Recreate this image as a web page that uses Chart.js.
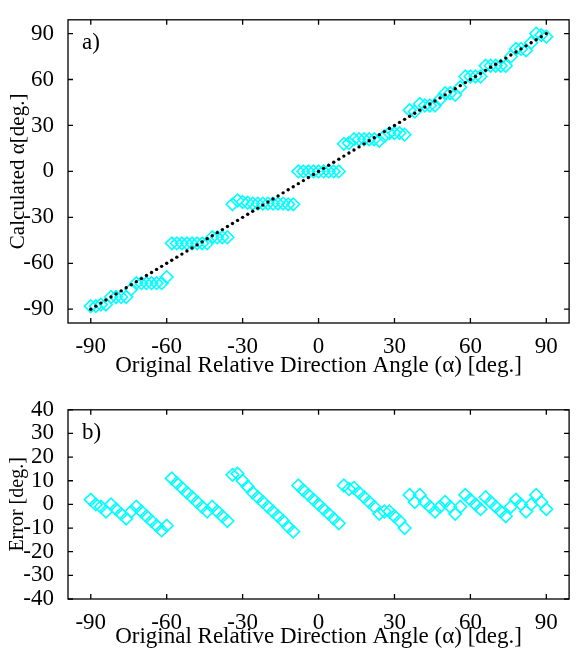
<!DOCTYPE html>
<html>
<head>
<meta charset="utf-8">
<script src="https://cdn.jsdelivr.net/npm/chart.js@4.4.0/dist/chart.umd.min.js"></script>
<style>
  body { margin: 0; background: #fff; }
  #wrap { position: relative; width: 577px; height: 654px; }
  canvas { position: absolute; left: 0; }
</style>
</head>
<body>
<div id="wrap">
  <canvas id="chartAngle" width="577" height="390" style="top:0"></canvas>
  <canvas id="chartError" width="577" height="264" style="top:390px"></canvas>
</div>
<script>
// Datos
const angles = [-90, -88, -86, -84, -82, -80, -78, -76, -74, -72, -70, -68, -66, -64, -62, -60,
  -58, -56, -54, -52, -50, -48, -46, -44, -42, -40, -38, -36,
  -34, -32, -30, -28, -26, -24, -22, -20, -18, -16, -14, -12, -10,
  -8, -6, -4, -2, 0, 2, 4, 6, 8,
  10, 12, 14, 16, 18, 20, 22, 24, 26, 28, 30, 32, 34,
  36, 38, 40, 42, 44, 46, 48, 50, 52, 54, 56, 58, 60, 62, 64, 66, 68, 70, 72, 74, 76, 78, 80, 82, 84, 86, 88, 90];

const calculated = [-88, -88, -87, -87, -82, -82, -82, -82, -77, -73, -73, -73, -73, -73, -73, -69,
  -47, -47, -47, -47, -47, -47, -47, -47, -43, -43, -43, -43,
  -21.5, -19, -20, -20.5, -21, -21, -21, -21, -21, -21, -21, -21.5, -21.5,
  0, 0, 0, 0, 0, 0, 0, 0, 0,
  18, 18.5, 21, 21, 21, 21, 21, 20, 23, 25, 25, 25, 24,
  40, 39, 44, 43, 43, 43, 47, 51, 51, 50, 55, 62, 62, 62, 62, 69, 69, 69, 69, 69, 75, 80, 80, 79, 84, 90, 89, 88];

const errors = [2, 0, -1, -3, 0, -2, -4, -6, -3, -1, -3, -5, -7, -9, -11, -9,
  11, 9, 7, 5, 3, 1, -1, -3, -1, -3, -5, -7,
  12.5, 13, 10, 7.5, 5, 3, 1, -1, -3, -5, -7, -9.5, -11.5,
  8, 6, 4, 2, 0, -2, -4, -6, -8,
  8, 6.5, 7, 5, 3, 1, -1, -4, -3, -3, -5, -7, -10,
  4, 1, 4, 1, -1, -3, -1, 1, -1, -4, -1, 4, 2, 0, -2, 3, 1, -1, -3, -5, -1, 2, 0, -3, 0, 4, 1, -2];

const xTicks = [-90, -60, -30, 0, 30, 60, 90];
const yTicksAngle = [-90, -60, -30, 0, 30, 60, 90];
const yTicksError = [-40, -30, -20, -10, 0, 10, 20, 30, 40];

const FONT = "'Liberation Serif', 'Times New Roman', serif";
const CYAN = '#00FFFF';

const puntos = (ys) => angles.map((a, i) => ({ x: a, y: ys[i] }));

// Caja de ejes con marcas hacia adentro y etiqueta del panel
const cajaPlugin = {
  id: 'caja',
  afterDraw(chart, args, opts) {
    const { ctx, chartArea: a, scales: { x, y } } = chart;
    ctx.save();
    ctx.strokeStyle = '#000';
    ctx.lineWidth = 1.3;
    ctx.strokeRect(a.left, a.top, a.right - a.left, a.bottom - a.top);
    ctx.beginPath();
    x.ticks.forEach((t) => {
      const px = x.getPixelForValue(t.value);
      ctx.moveTo(px, a.bottom); ctx.lineTo(px, a.bottom - 5);
      ctx.moveTo(px, a.top); ctx.lineTo(px, a.top + 5);
    });
    y.ticks.forEach((t) => {
      const py = y.getPixelForValue(t.value);
      ctx.moveTo(a.left, py); ctx.lineTo(a.left + 5, py);
      ctx.moveTo(a.right, py); ctx.lineTo(a.right - 5, py);
    });
    ctx.stroke();
    ctx.fillStyle = '#000';
    ctx.font = '23px ' + FONT;
    ctx.textBaseline = 'alphabetic';
    ctx.fillText(opts.label, a.left + 14, a.top + 29);
    ctx.restore();
  }
};

const ejeX = (alto, padTitulo) => ({
  type: 'linear',
  min: -99,
  max: 99,
  grid: { display: false },
  border: { display: false },
  afterBuildTicks: (s) => { s.ticks = xTicks.map((v) => ({ value: v })); },
  afterFit: (s) => { s.height = alto; },
  ticks: { color: '#000', padding: 2, maxRotation: 0, autoSkip: false, font: { family: FONT, size: 23 } },
  title: {
    display: true,
    text: 'Original Relative Direction Angle (α) [deg.]',
    color: '#000',
    padding: { top: 0, bottom: padTitulo },
    font: { family: FONT, size: 23 }
  }
});

const ejeY = (min, max, ticks, titulo, tamTitulo) => ({
  type: 'linear',
  min: min,
  max: max,
  grid: { display: false },
  border: { display: false },
  afterBuildTicks: (s) => { s.ticks = ticks.map((v) => ({ value: v })); },
  afterFit: (s) => { s.width = 68; },
  ticks: { color: '#000', padding: 6, autoSkip: false, font: { family: FONT, size: 23 } },
  title: {
    display: true,
    text: titulo,
    color: '#000',
    padding: { top: 18 - tamTitulo * 0.6, bottom: 0 },
    font: { family: FONT, size: tamTitulo }
  }
});

const opcionesBase = {
  responsive: false,
  animation: false,
  devicePixelRatio: 1,
  plugins: { legend: { display: false }, tooltip: { enabled: false } }
};

// Grafica a) angulo calculado
new Chart(document.getElementById('chartAngle'), {
  type: 'scatter',
  data: {
    datasets: [{
      data: puntos(angles),
      pointStyle: 'circle',
      pointRadius: 1.7,
      pointBackgroundColor: '#000',
      pointBorderWidth: 0
    }, {
      data: puntos(calculated),
      pointStyle: 'rectRot',
      pointRadius: 6.3,
      pointBackgroundColor: 'rgba(0,0,0,0)',
      pointBorderColor: CYAN,
      pointBorderWidth: 1.6
    }]
  },
  options: {
    ...opcionesBase,
    layout: { padding: { top: 11, right: 1, left: 0, bottom: 0 } },
    plugins: { ...opcionesBase.plugins, caja: { label: 'a)' } },
    scales: {
      x: ejeX(67, 10),
      y: ejeY(-99, 99, yTicksAngle, 'Calculated α[deg.]', 21)
    }
  },
  plugins: [cajaPlugin]
});

// Grafica b) error
new Chart(document.getElementById('chartError'), {
  type: 'scatter',
  data: {
    datasets: [{
      data: puntos(errors),
      pointStyle: 'rectRot',
      pointRadius: 6.3,
      pointBackgroundColor: 'rgba(0,0,0,0)',
      pointBorderColor: CYAN,
      pointBorderWidth: 1.6
    }]
  },
  options: {
    ...opcionesBase,
    layout: { padding: { top: 11, right: 1, left: 0, bottom: 0 } },
    plugins: { ...opcionesBase.plugins, caja: { label: 'b)' } },
    scales: {
      x: ejeX(55, 3),
      y: ejeY(-40, 40, yTicksError, 'Error [deg.]', 20)
    }
  },
  plugins: [cajaPlugin]
});
</script>
</body>
</html>
